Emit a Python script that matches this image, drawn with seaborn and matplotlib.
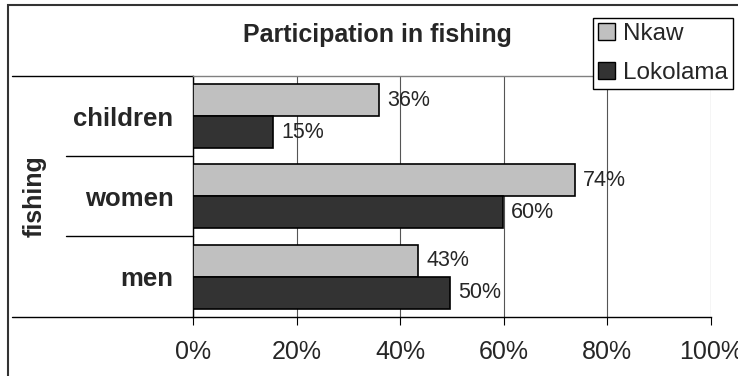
# Participation in fishing - horizontal grouped bars, Excel look
import numpy as np
import pandas as pd
import seaborn as sns
import matplotlib.pyplot as plt
import matplotlib.transforms as mtransforms
from matplotlib.patches import Patch, Rectangle

# %%
# data
groups = ['children', 'women', 'men']
sites = ['Nkaw', 'Lokolama']
nkaw = [35.9, 73.7, 43.4]
lokolama = [15.4, 59.8, 49.6]
site_colors = ['#C0C0C0', '#333333']
x_ticks = [0, 20, 40, 60, 80, 100]

df = pd.DataFrame({'group': groups * 2,
                   'site': ['Nkaw'] * 3 + ['Lokolama'] * 3,
                   'pct': nkaw + lokolama})

sns.set_style('white')
plt.rcParams['font.family'] = ['Liberation Sans', 'DejaVu Sans']

# %%
fig = plt.figure(figsize=(7.38, 3.76), dpi=100)
ax = fig.add_axes([0.2615, 0.1577, 0.7019, 0.640])

sns.barplot(data=df, x='pct', y='group', hue='site', order=groups,
            hue_order=sites, palette=site_colors, saturation=1, width=0.8,
            edgecolor='black', linewidth=1.2, orient='h', ax=ax,
            legend=False, zorder=3)

for c in ax.containers:
    ax.bar_label(c, fmt='{:.0f}%', padding=6, fontsize=15.5)

ax.set_axisbelow(True)
ax.xaxis.grid(True, color='#555555', lw=0.8)
ax.set_xlim(0, 100)
ax.set_xticks(x_ticks)
ax.set_xticklabels([f'{t}%' for t in x_ticks])
ax.tick_params(axis='x', bottom=True, length=5.8, width=0.8, direction='out',
               pad=11, labelsize=18, color='black')
ax.set_ylim(len(groups) - 0.5, -0.5)
ax.tick_params(axis='y', left=False, length=0, pad=14, labelsize=18.5)
for lab in ax.get_yticklabels():
    lab.set_fontweight('bold')
ax.set_xlabel('')
ax.set_ylabel('fishing', fontsize=18, fontweight='bold')
ax.yaxis.set_label_coords(-0.283, 0.5)

# spines
ax.spines['right'].set_visible(False)
ax.spines['top'].set_color('#808080')
ax.spines['top'].set_linewidth(1)
for s in ['left', 'bottom']:
    ax.spines[s].set_color('black')
    ax.spines[s].set_linewidth(1)

# category separators on the left (Excel style)
trans = mtransforms.blended_transform_factory(ax.transAxes, ax.transData)
bounds = np.arange(len(groups) + 1) - 0.5
for i, b in enumerate(bounds):
    x0 = -0.349 if i in (0, len(bounds) - 1) else -0.245
    ax.plot([x0, 0], [b, b], transform=trans, color='black', lw=1,
            clip_on=False)

# title
fig.text(0.511, 0.8875, 'Participation in fishing', ha='center',
         va='baseline', fontsize=18, fontweight='bold')

# legend
handles = [Patch(facecolor=col, edgecolor='black', lw=1, label=s)
           for s, col in zip(sites, site_colors)]
leg = fig.legend(handles=handles, loc='upper left',
                 bbox_to_anchor=(593 / 738, 1 - 18 / 376),
                 bbox_transform=fig.transFigure, fontsize=17.5,
                 frameon=True, fancybox=False, edgecolor='black',
                 framealpha=1, handlelength=0.7, handleheight=0.7,
                 handletextpad=0.3, borderpad=0.22, labelspacing=0.68,
                 borderaxespad=0)
leg.get_frame().set_linewidth(1)

# outer chart border
fig.patches.append(Rectangle((8 / 738, -0.05), 1.1, 1.0367,
                             transform=fig.transFigure, fill=False,
                             edgecolor='#333333', lw=1.5))

fig.savefig('out.png', dpi=100)
